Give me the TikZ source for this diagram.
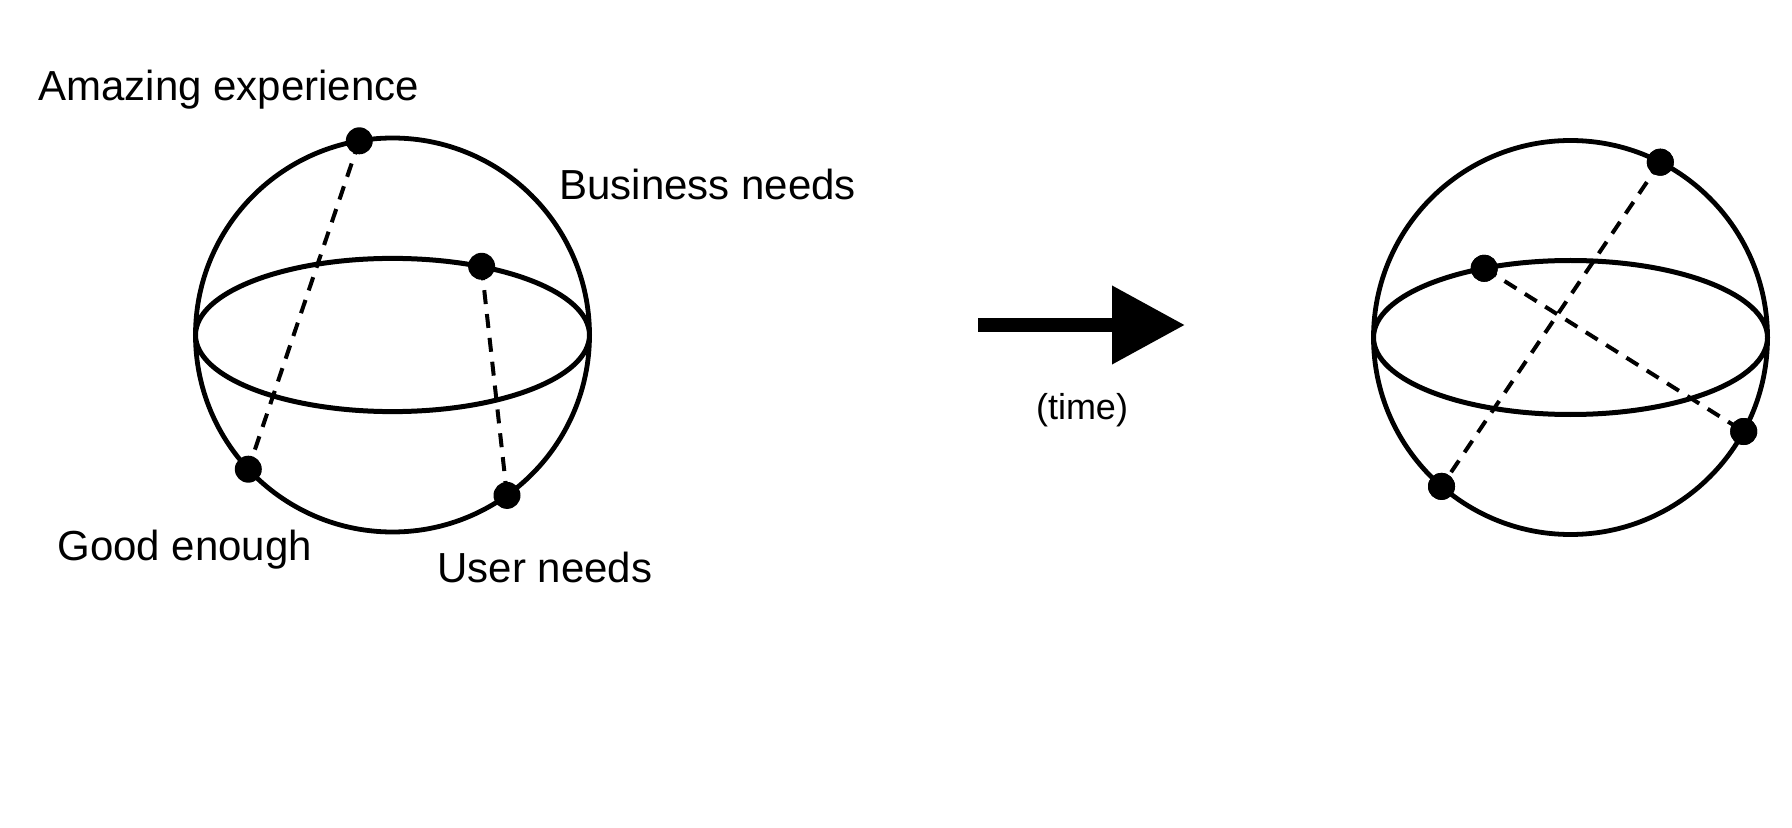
\documentclass[tikz,border=0pt]{standalone}
\usepackage{fontspec}
\setmainfont{Liberation Sans}
\usetikzlibrary{arrows.meta}
\begin{document}
\begin{tikzpicture}[x=0.5pt,y=-0.5pt,
  sphere/.style={line width=2.4pt},
  equator/.style={line width=2.5pt},
  dot/.style={circle,fill=black,inner sep=0pt,minimum size=13.5pt},
  link/.style={line width=2pt,dash pattern=on 7pt off 5pt},
  lbl/.style={anchor=base west,inner sep=0pt,font=\fontsize{21pt}{25pt}\selectfont},
  timelbl/.style={anchor=base,inner sep=0pt,font=\fontsize{18pt}{22pt}\selectfont},
  bigarrow/.style={line width=7pt,-{Triangle[length=36.5pt,width=37.5pt]}}]
\useasboundingbox (0,0) rectangle (1792,828);
% left sphere
\coordinate (lc) at (392.5,335);
\draw[sphere] (lc) circle [radius=98.5pt];
\draw[equator] (lc) ellipse [x radius=98.5pt, y radius=38.3pt];
\node[dot] (amazing) at (359.3,140.8) {};
\node[dot] (business) at (481.6,266.3) {};
\node[dot] (good) at (248.3,469.2) {};
\node[dot] (user) at (507,495.4) {};
\draw[link] (amazing.center) -- (good.center);
\draw[link] (business.center) -- (user.center);
\node[lbl] (tamazing) at (38,101) {Amazing experience};
\node[lbl] (tbusiness) at (559,200) {Business needs};
\node[lbl] (tgood) at (57,560) {Good enough};
\node[lbl] (tuser) at (437,582) {User needs};
% arrow
\coordinate (astart) at (978,325);
\coordinate (aend) at (1185,325);
\draw[bigarrow] (astart) -- (aend);
\node[timelbl] (ttime) at (1082,419) {(time)};
% right sphere
\coordinate (rc) at (1570.5,337.5);
\draw[sphere] (rc) circle [radius=98.5pt];
\draw[equator] (rc) ellipse [x radius=98.5pt, y radius=38.5pt];
\node[dot] (r1) at (1660.3,162.2) {};
\node[dot] (r2) at (1441.5,486.4) {};
\node[dot] (r3) at (1484.2,268.3) {};
\node[dot] (r4) at (1743.7,431.5) {};
\draw[link] (r1.center) -- (r2.center);
\draw[link] (r3.center) -- (r4.center);
\node[dot] at (r1) {};
\node[dot] at (r2) {};
\node[dot] at (r3) {};
\node[dot] at (r4) {};
\end{tikzpicture}
\end{document}
